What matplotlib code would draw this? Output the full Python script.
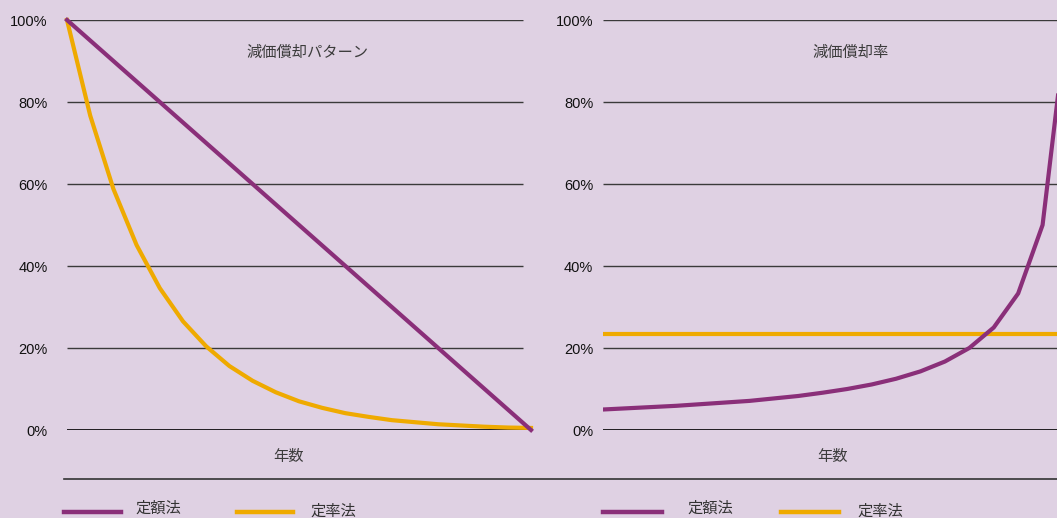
import matplotlib.pyplot as plt
from matplotlib.lines import Line2D

plt.rcParams['font.family'] = ['Liberation Sans', 'Noto Sans CJK JP', 'DejaVu Sans']

W, H = 1057, 518

# remaining book value (%) per year, 20-year asset
years = list(range(21))
straight_line = [100, 95, 90, 85, 80, 75, 70, 65, 60, 55, 50,
                 45, 40, 35, 30, 25, 20, 15, 10, 5, 0]
declining = [100, 76.7, 58.8, 45.1, 34.6, 26.5, 20.4, 15.6, 12.0, 9.2, 7.0,
             5.4, 4.1, 3.2, 2.4, 1.9, 1.4, 1.1, 0.8, 0.6, 0.5]

# depreciation rate (%) per year
rate_years = list(range(20))
straight_rate = [5.0, 5.3, 5.6, 5.9, 6.3, 6.7, 7.1, 7.7, 8.3, 9.1,
                 10.0, 11.1, 12.5, 14.3, 16.7, 20.0, 25.0, 33.3, 50.0, 100.0]
declining_rate = [23.3] * 20

yticks = [0, 20, 40, 60, 80, 100]
ytick_labels = ['0%', '20%', '40%', '60%', '80%', '100%']

series_names = ['定額法', '定率法']
panel_titles = ['減価償却パターン', '減価償却率']

BG = '#dfd1e3'
PURPLE = '#8a2f79'
YELLOW = '#efaa00'
CJK = ['Noto Sans CJK JP', 'DejaVu Sans']


def fx(x):
    return x / W


def fy(y):
    return 1 - y / H


fig = plt.figure(figsize=(W / 100, H / 100), dpi=100, facecolor=BG)

# axes placed by pixel edges: left, right, top (100%), bottom (0%)
ax1 = fig.add_axes([fx(67), fy(430), fx(531 - 67), (430 - 20) / H])
ax2 = fig.add_axes([fx(603), fy(430), fx(1067 - 603), (430 - 20) / H])

for ax, xmax, pad in [(ax1, 20, 14), (ax2, 19, 7)]:
    ax.set_facecolor(BG)
    ax.set_xlim(0, xmax)
    ax.set_ylim(0, 100)
    for s in ax.spines.values():
        s.set_visible(False)
    ax.set_xticks([])
    ax.set_yticks(yticks)
    ax.set_yticklabels(ytick_labels, fontsize=10.5, color='#111111')
    ax.tick_params(axis='y', length=0, pad=pad)

ax1.hlines(yticks[1:], 0, 19.65, color='#3a3a3a', lw=1.0, zorder=1)
ax1.hlines(0, 0, 20, color='black', lw=1.2, zorder=1)
ax2.hlines(yticks[1:], 0, 19, color='#3a3a3a', lw=1.0, zorder=1)
ax2.hlines(0, 0, 19, color='black', lw=1.2, zorder=1)

ax1.plot(years, straight_line, color=PURPLE, lw=3, clip_on=False, zorder=3)
ax1.plot(years, declining, color=YELLOW, lw=3, clip_on=False, zorder=2)

ax2.plot(rate_years, declining_rate, color=YELLOW, lw=3, zorder=2)
ax2.plot(rate_years, straight_rate, color=PURPLE, lw=3, zorder=3)

# panel titles and x labels
for cx, title in [(307, panel_titles[0]), (851, panel_titles[1])]:
    fig.text(fx(cx), fy(52), title, family=CJK, fontsize=11, color='#3c3c3c',
             ha='center', va='center')
for cx in [289, 833]:
    fig.text(fx(cx), fy(457), '年数', family=CJK, fontsize=11, color='#3c3c3c',
             ha='center', va='center')

# separator above legend
fig.add_artist(Line2D([fx(64), 1], [fy(479), fy(479)], color='#333333', lw=1.2))

# legends drawn by hand
legend_items = [
    (64, 121, 135, PURPLE, series_names[0], 508),
    (237, 293, 310, YELLOW, series_names[1], 511),
    (603, 662, 687, PURPLE, series_names[0], 508),
    (781, 839, 857, YELLOW, series_names[1], 511),
]
for x0, x1, tx, col, name, ty in legend_items:
    fig.add_artist(Line2D([fx(x0), fx(x1)], [fy(512), fy(512)], color=col, lw=3.2))
    fig.text(fx(tx), fy(ty), name, family=CJK, fontsize=11, color='#333333',
             ha='left', va='center')

fig.savefig('out.png', dpi=100, facecolor=BG)
